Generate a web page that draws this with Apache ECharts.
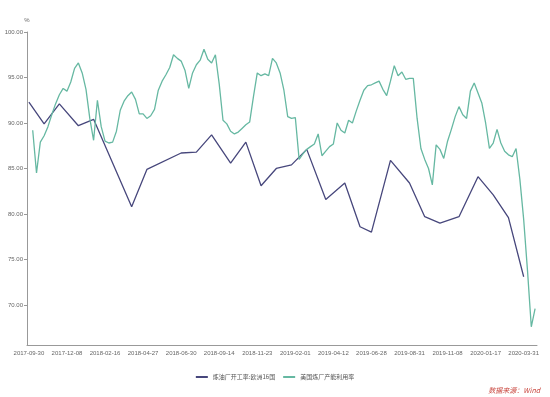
<!DOCTYPE html>
<html>
<head>
<meta charset="utf-8">
<script src="https://cdn.jsdelivr.net/npm/echarts@6/dist/echarts.min.js"></script>
<style>
  html, body { margin: 0; padding: 0; background: #fff; }
  #chart { width: 550px; height: 397px; }
</style>
</head>
<body>
<div id="chart"></div>
<script>
var dates = [
  '2017-09-30','2017-10-06','2017-10-13','2017-10-20','2017-10-27','2017-11-03','2017-11-10','2017-11-17','2017-11-24','2017-12-01',
  '2017-12-08','2017-12-15','2017-12-22','2017-12-29','2018-01-05','2018-01-12','2018-01-19','2018-01-26','2018-02-02','2018-02-09',
  '2018-02-16','2018-02-23','2018-03-02','2018-03-09','2018-03-16','2018-03-23','2018-03-30','2018-04-06','2018-04-13','2018-04-20',
  '2018-04-27','2018-05-04','2018-05-11','2018-05-18','2018-05-25','2018-06-01','2018-06-08','2018-06-15','2018-06-22','2018-06-29',
  '2018-06-30','2018-07-06','2018-07-13','2018-07-20','2018-07-27','2018-08-03','2018-08-10','2018-08-17','2018-08-24','2018-09-07',
  '2018-09-14','2018-09-21','2018-09-28','2018-10-05','2018-10-12','2018-10-19','2018-10-26','2018-11-02','2018-11-09','2018-11-16',
  '2018-11-23','2018-11-30','2018-12-07','2018-12-14','2018-12-21','2018-12-28','2019-01-04','2019-01-11','2019-01-18','2019-01-25',
  '2019-02-01','2019-02-08','2019-02-15','2019-02-22','2019-03-01','2019-03-08','2019-03-15','2019-03-22','2019-03-29','2019-04-05',
  '2019-04-12','2019-04-26','2019-05-03','2019-05-10','2019-05-17','2019-05-24','2019-05-31','2019-06-07','2019-06-14','2019-06-21',
  '2019-06-28','2019-07-05','2019-07-12','2019-07-19','2019-07-26','2019-08-02','2019-08-09','2019-08-16','2019-08-23','2019-08-30',
  '2019-08-31','2019-09-06','2019-09-13','2019-09-20','2019-09-27','2019-10-04','2019-10-11','2019-10-18','2019-10-25','2019-11-01',
  '2019-11-08','2019-11-15','2019-11-22','2019-11-29','2019-12-06','2019-12-13','2019-12-20','2019-12-27','2020-01-03','2020-01-10',
  '2020-01-17','2020-01-24','2020-01-31','2020-02-07','2020-02-14','2020-02-21','2020-02-28','2020-03-06','2020-03-13','2020-03-20',
  '2020-03-31','2020-04-03','2020-04-10','2020-04-17'
];

// 炼油厂开工率:欧洲16国 (monthly)
var euroDates = [
  '2017-09-30','2017-10-27','2017-11-24','2017-12-29','2018-01-26','2018-04-06','2018-05-04','2018-06-30','2018-07-27','2018-08-24',
  '2018-10-05','2018-11-02','2018-11-30','2018-12-28','2019-01-25','2019-02-22','2019-03-29','2019-05-10','2019-06-07','2019-06-28',
  '2019-08-02','2019-08-31','2019-09-27','2019-10-25','2019-11-29','2020-01-03','2020-01-31','2020-02-28','2020-03-31'
];
var euroValues = [
  92.3, 89.9, 92.1, 89.7, 90.4, 80.8, 84.9, 86.7, 86.8, 88.7,
  85.6, 87.9, 83.1, 85.0, 85.4, 87.1, 81.6, 83.4, 78.6, 78.0,
  85.9, 83.4, 79.7, 79.0, 79.7, 84.1, 82.1, 79.6, 73.1
];

// 美国炼厂产能利用率 (weekly)
var usValues = [
  null, 89.2, 84.5, 87.9, 88.6, 89.6, 90.9, 92.1, 93.1, 93.8,
  93.5, 94.5, 96.0, 96.6, 95.5, 93.7, 90.5, 88.1, 92.5, 89.6,
  88.0, 87.8, 87.9, 89.1, 91.4, 92.4, 93.0, 93.4, 92.6, 91.0,
  91.0, 90.5, 90.8, 91.5, 93.6, 94.6, 95.3, 96.1, 97.5, 97.1,
  96.8, 95.8, 93.8, 95.5, 96.4, 96.9, 98.1, 97.0, 96.6, 97.5,
  94.3, 90.3, 89.9, 89.1, 88.8, 89.0, 89.4, 89.8, 90.1, 92.9,
  95.5, 95.2, 95.4, 95.2, 97.1, 96.6, 95.5, 93.6, 90.7, 90.5,
  90.6, 86.0, 86.6, 87.1, 87.4, 87.7, 88.8, 86.4, 86.9, 87.4,
  87.7, 90.0, 89.2, 88.9, 90.3, 90.0, 91.3, 92.5, 93.6, 94.1,
  94.2, 94.4, 94.6, 93.7, 93.0, 94.6, 96.3, 95.2, 95.6, 94.8,
  94.9, 94.9, 90.5, 87.2, 86.0, 85.0, 83.2, 87.6, 87.1, 86.1,
  88.0, 89.3, 90.7, 91.8, 90.9, 90.5, 93.5, 94.4, 93.3, 92.2,
  90.0, 87.2, 87.8, 89.3, 87.8, 86.9, 86.5, 86.3, 87.2, 83.8,
  79.4, 73.8, 67.6, 69.6
];

var yTicks = [70, 75, 80, 85, 90, 95, 100];

var euroSeries = dates.map(function (d) {
  var k = euroDates.indexOf(d);
  return k >= 0 ? euroValues[k] : null;
});

var chart = echarts.init(document.getElementById('chart'));

var option = {
  animation: false,
  grid: { left: 27, right: 13, top: 32, bottom: 52 },
  legend: {
    bottom: 12,
    left: 'center',
    itemWidth: 12,
    itemHeight: 2,
    itemGap: 8,
    icon: 'rect',
    textStyle: { fontSize: 6, color: '#555', fontFamily: 'Noto Sans CJK SC' },
    data: ['炼油厂开工率:欧洲16国', '美国炼厂产能利用率']
  },
  xAxis: {
    type: 'category',
    data: dates,
    boundaryGap: true,
    axisLine: { lineStyle: { color: '#999', width: 1 } },
    axisTick: { inside: true, length: 3, interval: 9, alignWithLabel: true, lineStyle: { color: '#999' } },
    axisLabel: { interval: 9, fontSize: 6, color: '#666', margin: 5, fontFamily: 'Liberation Sans' }
  },
  yAxis: {
    type: 'value',
    min: 65.6,
    max: 100,
    name: '%',
    nameGap: 9,
    nameTextStyle: { fontSize: 6, color: '#666', align: 'center' },
    splitLine: { show: false },
    axisLine: { show: true, lineStyle: { color: '#999', width: 1 } },
    axisTick: { show: true, length: 3, customValues: yTicks, lineStyle: { color: '#999' } },
    axisLabel: {
      fontSize: 6, color: '#666', margin: 4, fontFamily: 'Liberation Sans',
      customValues: yTicks,
      formatter: function (v) { return v.toFixed(2); }
    }
  },
  graphic: [{
    type: 'text',
    right: 10,
    top: 387,
    style: {
      text: '数据来源：Wind',
      fill: '#c8443c',
      fontSize: 7,
      fontStyle: 'italic',
      fontFamily: 'Noto Sans CJK SC'
    }
  }],
  series: [
    {
      name: '炼油厂开工率:欧洲16国',
      type: 'line',
      data: euroSeries,
      connectNulls: true,
      showSymbol: false,
      symbol: 'none',
      lineStyle: { color: '#47477c', width: 1.3 },
      itemStyle: { color: '#47477c' }
    },
    {
      name: '美国炼厂产能利用率',
      type: 'line',
      data: usValues,
      connectNulls: true,
      showSymbol: false,
      symbol: 'none',
      lineStyle: { color: '#66b8a2', width: 1.3 },
      itemStyle: { color: '#66b8a2' }
    }
  ]
};

chart.setOption(option);
</script>
</body>
</html>
